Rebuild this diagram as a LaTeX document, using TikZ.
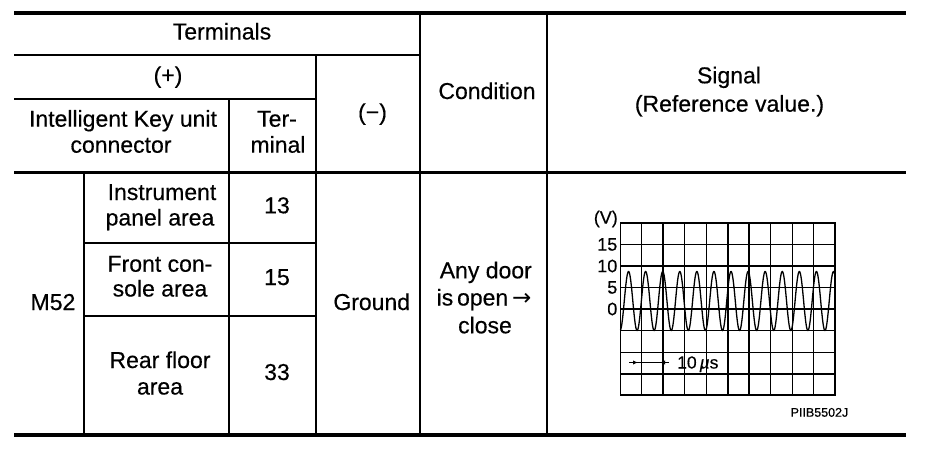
\documentclass[tikz,border=0pt]{standalone}
\usepackage{fontspec}
\setmainfont{Liberation Sans}[FakeBold=0.4]
\newfontfamily\arrowfont{DejaVu Sans}
\usetikzlibrary{arrows.meta}
\begin{document}
\begin{tikzpicture}[x=1pt,y=-1pt,
  txt/.style={font=\fontsize{23}{26}\selectfont, inner sep=0pt, anchor=base},
  rule/.style={line width=1.8pt},
  gthin/.style={line width=1pt},
  gthick/.style={line width=2pt},
  axlab/.style={font=\fontsize{18}{18}\selectfont, inner sep=0pt, anchor=east},
  wave/.style={line width=1.3pt},
  tip/.style={-{Latex[length=5pt,width=4.5pt]}, line width=1.3pt}]
\useasboundingbox (0,0) rectangle (928,450);
\fill[white] (0,0) rectangle (928,450);
% table rules
\draw[line width=3.8pt] (14,13) -- (906,13);
\draw[rule] (14,55) -- (420,55);
\draw[rule] (14,99) -- (316,99);
\draw[line width=3pt] (14,172) -- (906,172);
\draw[rule] (84,243) -- (316,243);
\draw[rule] (84,316) -- (316,316);
\draw[line width=4.5pt] (14,435) -- (906,435);
\draw[rule] (420,13) -- (420,435);
\draw[rule] (547,13) -- (547,435);
\draw[rule] (316,55) -- (316,435);
\draw[rule] (229,99) -- (229,435);
\draw[rule] (84,172) -- (84,435);
% header texts
\node[txt] (hTerm) at (222,39.5) {Terminals};
\node[txt] (hPlus) at (168,83) {(+)};
\node[txt] (hIK1) at (123,126.7) {Intelligent Key unit};
\node[txt] (hIK2) at (121,152.7) {connector};
\node[txt] (hTer1) at (277,126.7) {Ter-};
\node[txt] (hTer2) at (278,152.7) {minal};
\node[txt] (hMinus) at (372.5,120) {(−)};
\node[txt] (hCond) at (487,99) {Condition};
\node[txt] (hSig1) at (729,83.3) {Signal};
\node[txt] (hSig2) at (729.5,111.7) {(Reference value.)};
% body texts
\node[txt] (bM52) at (53,310) {M52};
\node[txt] (bIns1) at (162,200) {Instrument};
\node[txt] (bIns2) at (160,225.5) {panel area};
\node[txt] (b13) at (277,213.3) {13};
\node[txt] (bFr1) at (160,271.7) {Front con-};
\node[txt] (bFr2) at (160,296.5) {sole area};
\node[txt] (b15) at (277,285) {15};
\node[txt] (bRe1) at (160,368) {Rear floor};
\node[txt] (bRe2) at (160,394.5) {area};
\node[txt] (b33) at (277,380) {33};
\node[txt] (bGnd) at (371.7,310) {Ground};
\node[txt] (bC1) at (485.8,278.3) {Any door};
\node[txt] (bC2) at (484,305.5) {is\,open\,{\arrowfont\fontsize{23}{26}\selectfont →}};
\node[txt] (bC3) at (485,333.3) {close};
% oscilloscope grid
\foreach \i in {0,...,10} \draw[gthin] ({620.5+21.45*\i},223) -- ({620.5+21.45*\i},395);
\foreach \j in {0,...,8} \draw[gthin] (620.5,{223+21.5*\j}) -- (835,{223+21.5*\j});
\foreach \i in {2,5,6} \draw[gthick] ({620.5+21.45*\i},223) -- ({620.5+21.45*\i},395);
\foreach \j in {2,4,7} \draw[gthick] (620.5,{223+21.5*\j}) -- (835,{223+21.5*\j});
\draw[line width=1.5pt] (620.5,223) rectangle (835,395);
% waveform
\draw[wave] plot[variable=\t,domain=0.03:12.587,samples=600,smooth] ({620+17.08*\t},{301+29.5*cos(360*\t)});
% axis labels
\node[axlab] (lV) at (618,219) {(V)};
\node[axlab] (l15) at (617.5,244.5) {15};
\node[axlab] (l10) at (617.5,266) {10};
\node[axlab] (l5) at (617.5,287.5) {5};
\node[axlab] (l0) at (617.5,309) {0};
% time scale
\coordinate (aL) at (629,362.5);
\coordinate (aR) at (669,362.5);
\coordinate (mL) at (638,362.5);
\coordinate (mR) at (660,362.5);
\draw[line width=1.3pt] (aL) -- (aR);
\draw[tip] (aL) -- (mL);
\draw[tip] (aR) -- (mR);
\node[inner sep=0pt, anchor=base west, font=\fontsize{17.5}{17.5}\selectfont] (tUs) at (677,368.5) {10\,\textit{µ}s};
\node[inner sep=0pt, anchor=base east, font=\fontsize{12.5}{12.5}\selectfont] (pCode) at (848.5,416.7) {PIIB5502J};
\end{tikzpicture}
\end{document}
